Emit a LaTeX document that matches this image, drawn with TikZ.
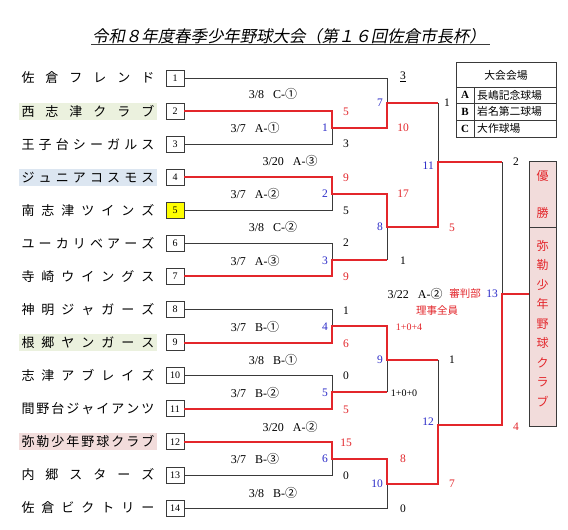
\documentclass[tikz,border=0pt]{standalone}
\usepackage{fontspec}
\setmainfont{Liberation Serif}
\newfontfamily\jp{Noto Sans CJK JP}
\newfontfamily\jpsl[FakeSlant=0.2]{Noto Sans CJK JP}
\definecolor{winred}{HTML}{E3262B}
\definecolor{numblue}{HTML}{2B2BC8}
\definecolor{linegray}{HTML}{3A3A3A}
\definecolor{bggreen}{HTML}{EBF1DE}
\definecolor{bgblue}{HTML}{DCE6F1}
\definecolor{bgpink}{HTML}{F2DCDB}
\definecolor{boxyellow}{HTML}{FFFF00}
\makeatletter
\def\spreadtext#1{\makebox[133pt][s]{\expandafter\spr@first#1\spr@end}}
\def\spr@first#1{#1\spr@loop}
\def\spr@loop#1{\ifx#1\spr@end\else\hfill#1\expandafter\spr@loop\fi}
\let\spr@end\relax
\makeatother
\newcommand\dsp{\hspace{9pt}}
\tikzset{
  team/.style={inner xsep=2.5pt, inner ysep=0pt, minimum height=17pt, font=\jp\fontsize{13}{14}\selectfont},
  numbox/.style={draw=linegray, line width=0.8pt, minimum width=18pt, minimum height=16pt, inner sep=0pt, font=\fontsize{10}{11}\selectfont},
  graypath/.style={draw=linegray, line width=0.9pt},
  redpath/.style={draw=winred, line width=2pt},
  sk/.style={inner sep=0pt, font=\fontsize{11.5}{12}\selectfont, text=black},
  sr/.style={inner sep=0pt, font=\fontsize{11.5}{12}\selectfont, text=winred},
  sb/.style={inner sep=0pt, anchor=east, font=\fontsize{11.5}{12}\selectfont, text=numblue},
  dt/.style={inner sep=0pt, font=\fontsize{12}{13}\selectfont},
  tbl/.style={draw=linegray, line width=0.8pt},
  tt/.style={inner sep=0pt, font=\jp\fontsize{10.8}{12}\selectfont},
  wbox/.style={draw=linegray, line width=0.9pt, fill=bgpink, minimum width=27pt, inner sep=0pt, anchor=north west},
  wt/.style={inner sep=0pt, text=winred, font=\jp\fontsize{12}{19.5}\selectfont, align=center},
}
\begin{document}
\begin{tikzpicture}[x=1pt,y=-1pt]
\useasboundingbox (0,0) rectangle (568,530);
\fill[white] (0,0) rectangle (568,530);

% title
\node[inner sep=0pt, font=\jpsl\fontsize{16.4}{18}\selectfont] (title) at (289,36) {令和８年度春季少年野球大会（第１６回佐倉市長杯）};
\draw[line width=0.8pt, linegray] ([xshift=-1pt,yshift=-0.5pt]title.south west) -- ([xshift=4pt,yshift=-0.5pt]title.south east);

% teams
\foreach \i/\nm/\bg/\bx in {1/佐倉フレンド/white/white, 2/西志津クラブ/bggreen/white, 3/王子台シーガルス/white/white, 4/ジュニアコスモス/bgblue/white, 5/南志津ツインズ/white/boxyellow, 6/ユーカリベアーズ/white/white, 7/寺崎ウイングス/white/white, 8/神明ジャガーズ/white/white, 9/根郷ヤンガース/bggreen/white, 10/志津アブレイズ/white/white, 11/間野台ジャイアンツ/white/white, 12/弥勒少年野球クラブ/bgpink/white, 13/内郷スターズ/white/white, 14/佐倉ビクトリー/white/white} {
  \node[team, fill=\bg] (t\i) at (88,{78+(\i-1)*33.08}) {\spreadtext{\nm}};
  \node[numbox, fill=\bx] (b\i) at (175,{78+(\i-1)*33.08}) {\i};
}

% junctions
\coordinate (m1) at (332,127.7);
\coordinate (m2) at (332,193.8);
\coordinate (m3) at (332,260);
\coordinate (m4) at (332,326);
\coordinate (m5) at (332,392.3);
\coordinate (m6) at (332,458.5);
\coordinate (m7) at (387,103);
\coordinate (m8) at (387,227);
\coordinate (m9) at (387,359.5);
\coordinate (m10) at (387,484);
\coordinate (m11) at (438,162);
\coordinate (m12) at (438,425);
\coordinate (m13) at (502,294);

% winner box
\node[wbox, minimum height=66pt] (champtop) at (529,161) {};
\node[wbox, minimum height=199pt] (champ) at (529,227) {};
\node[wt] (yu) at (542.5,176) {優};
\node[wt] (sho) at (542.5,213) {勝};
\node[wt] (wname) at (542.5,323.5) {弥\\勒\\少\\年\\野\\球\\ク\\ラ\\ブ};

% losing lines
\draw[graypath] (b1.east) -| (m7);
\draw[graypath] (b3.east) -| (m1);
\draw[graypath] (b5.east) -| (m2);
\draw[graypath] (b6.east) -| (m3);
\draw[graypath] (b8.east) -| (m4);
\draw[graypath] (b10.east) -| (m5);
\draw[graypath] (b13.east) -| (m6);
\draw[graypath] (b14.east) -| (m10);
\draw[graypath] (m7 -| m11) -- (m11);
\draw[graypath] (m3 -| m8) -- (m8);
\draw[graypath] (m11 -| m13) -- (m13);
\draw[graypath] (m5 -| m9) -- (m9);
\draw[graypath] (m9 -| m12) -- (m12);

% winning lines
\draw[redpath] (b2.east) -| (m1) -| (m7) -- (m7 -| m11);
\draw[redpath] (b4.east) -| (m2) -| (m8) -| (m11) -- (m11 -| m13);
\draw[redpath] (b7.east) -| (m3) -- (m3 -| m8);
\draw[redpath] (b9.east) -| (m4) -| (m9) -- (m9 -| m12);
\draw[redpath] (b11.east) -| (m5) -- (m5 -| m9);
\draw[redpath] (b12.east) -| (m6) -| (m10) -| (m12) -| (m13) -- (m13 -| champ.west);

% M1
\node[sr] (s1w) at (346,112) {5};
\node[sk] (s1l) at (346,144) {3};
\node[sb] (n1) at (328,128) {1};
\node[dt] (d1) at (255,128) {3/7\dsp A-{\jp ①}};
% M7
\node[dt] (d7) at (273,94) {3/8\dsp C-{\jp ①}};
\node[sb] (n7) at (383,103) {7};
\node[sk] (s7l) at (403,77) {\underline{3}};
\node[sr] (s7w) at (403,128) {10};
% M11
\node[dt] (d11) at (290,161) {3/20\dsp A-{\jp ③}};
\node[sb] (n11) at (434,166) {11};
\node[sk] (s11l) at (447,103) {1};
\node[sr] (s11w) at (452,228) {5};
% M2
\node[sr] (s2w) at (346,178) {9};
\node[sk] (s2l) at (346,211) {5};
\node[sb] (n2) at (328,194) {2};
\node[dt] (d2) at (255,194) {3/7\dsp A-{\jp ②}};
% M8
\node[dt] (d8) at (273,227) {3/8\dsp C-{\jp ②}};
\node[sb] (n8) at (383,227) {8};
\node[sr] (s8w) at (403,194) {17};
\node[sk] (s8l) at (403,261) {1};
% M3
\node[sk] (s3l) at (346,243) {2};
\node[sr] (s3w) at (346,277) {9};
\node[sb] (n3) at (328,261) {3};
\node[dt] (d3) at (255,261) {3/7\dsp A-{\jp ③}};
% final
\node[dt] (d13) at (415,294) {3/22\dsp A-{\jp ②}};
\node[sr, font=\jp\fontsize{10.5}{12}\selectfont] (ref1) at (465,294) {審判部};
\node[sb] (n13) at (498,294) {13};
\node[sr, font=\jp\fontsize{10.5}{12}\selectfont] (ref2) at (437,311) {理事全員};
\node[sk] (s13l) at (516,162) {2};
\node[sr] (s13w) at (516,427) {4};
% M4
\node[sk] (s4l) at (346,311) {1};
\node[sr] (s4w) at (346,344) {6};
\node[sb] (n4) at (328,327) {4};
\node[dt] (d4) at (255,327) {3/7\dsp B-{\jp ①}};
% M9
\node[dt] (d9) at (273,360) {3/8\dsp B-{\jp ①}};
\node[sb] (n9) at (383,360) {9};
\node[sr, font=\fontsize{10}{11}\selectfont] (s9w) at (409,327) {1+0+4};
\node[sk, font=\fontsize{10}{11}\selectfont] (s9l) at (404,393) {1+0+0};
% M12
\node[dt] (d12) at (290,427) {3/20\dsp A-{\jp ②}};
\node[sb] (n12) at (434,422) {12};
\node[sk] (s12l) at (452,360) {1};
\node[sr] (s12w) at (452,484) {7};
% M5
\node[sk] (s5l) at (346,376) {0};
\node[sr] (s5w) at (346,410) {5};
\node[sb] (n5) at (328,393) {5};
\node[dt] (d5) at (255,393) {3/7\dsp B-{\jp ②}};
% M6
\node[sr] (s6w) at (346,443) {15};
\node[sk] (s6l) at (346,476) {0};
\node[sb] (n6) at (328,459) {6};
\node[dt] (d6) at (255,459) {3/7\dsp B-{\jp ③}};
% M10
\node[dt] (d10) at (273,493) {3/8\dsp B-{\jp ②}};
\node[sb] (n10) at (383,484) {10};
\node[sr] (s10w) at (403,459) {8};
\node[sk] (s10l) at (403,509) {0};

% venue table
\draw[tbl] (456,62) rectangle (556,137);
\draw[tbl] (456,87) -- (556,87);
\draw[tbl] (456,103.5) -- (556,103.5);
\draw[tbl] (456,120) -- (556,120);
\draw[tbl] (474,87) -- (474,137);
\node[tt] (th) at (506,75) {大会会場};
\node[inner sep=0pt, font=\bfseries\fontsize{11}{12}\selectfont] (ta) at (465,95.3) {A};
\node[inner sep=0pt, font=\bfseries\fontsize{11}{12}\selectfont] (tb) at (465,111.8) {B};
\node[inner sep=0pt, font=\bfseries\fontsize{11}{12}\selectfont] (tc) at (465,128.5) {C};
\node[tt, anchor=west] (ra) at (477,95.3) {長嶋記念球場};
\node[tt, anchor=west] (rb) at (477,111.8) {岩名第二球場};
\node[tt, anchor=west] (rc) at (477,128.5) {大作球場};
\end{tikzpicture}
\end{document}
